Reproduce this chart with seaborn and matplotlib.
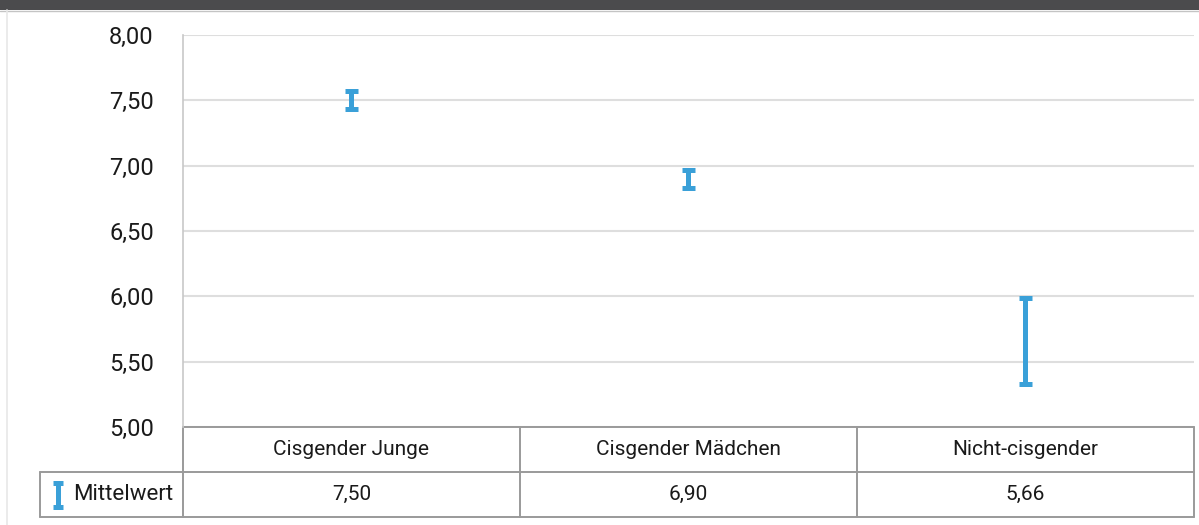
import matplotlib
matplotlib.use("Agg")
import matplotlib.pyplot as plt
import matplotlib.transforms as mtransforms
from matplotlib.lines import Line2D
from matplotlib.patches import Rectangle
import seaborn as sns
import pandas as pd

# Gruppen, Mittelwerte und halbe Breite der Fehlerbalken
categories = ["Cisgender Junge", "Cisgender Mädchen", "Nicht-cisgender"]
means = [7.50, 6.90, 5.66]
half_widths = [0.07, 0.07, 0.33]
mean_labels = ["7,50", "6,90", "5,66"]
y_ticks = [5.0, 5.5, 6.0, 6.5, 7.0, 7.5, 8.0]
y_tick_labels = ["5,00", "5,50", "6,00", "6,50", "7,00", "7,50", "8,00"]
legend_label = "Mittelwert"

BLUE = "#3aa0d8"
GRID = "#dedede"
TABLE = "#9a9a9a"
TEXT = "#1a1a1a"

sns.set_theme(style="white")
plt.rcParams["font.family"] = ["Roboto", "DejaVu Sans"]

# Untere und obere Grenze je Gruppe als Long-Format
rows = []
for c, m, h in zip(categories, means, half_widths):
    rows.append({"Gruppe": c, "Wert": m - h})
    rows.append({"Gruppe": c, "Wert": m + h})
df = pd.DataFrame(rows)

fig = plt.figure(figsize=(11.99, 5.25), dpi=100)
fig.patch.set_facecolor("white")

W, H = 1199, 525
ax = fig.add_axes([183 / W, (H - 427) / H, (1194 - 183) / W, (427 - 35) / H])

sns.pointplot(
    data=df, x="Gruppe", y="Wert", order=categories,
    estimator="mean", errorbar=("pi", 100),
    linestyle="none", marker="", capsize=0.04,
    color=BLUE, err_kws={"linewidth": 3.6, "solid_capstyle": "butt"},
    ax=ax,
)

ax.set_xlim(-0.5, 2.5)
ax.set_ylim(5.0, 8.0)
ax.set_yticks(y_ticks)
ax.set_yticklabels(y_tick_labels, fontsize=17, color=TEXT)
ax.tick_params(axis="y", length=0, pad=21)
ax.set_xticks([])
ax.set_xlabel("")
ax.set_ylabel("")
ax.yaxis.grid(True, color=GRID, linewidth=1.5)
ax.set_axisbelow(True)
for s in ["top", "right", "bottom"]:
    ax.spines[s].set_visible(False)
ax.spines["left"].set_color("#c8c8c8")
ax.spines["left"].set_linewidth(1.2)

# Datentabelle unter der Achse: x in Datenkoordinaten, y in Achsenanteilen
tr = mtransforms.blended_transform_factory(ax.transData, ax.transAxes)
px = 1.0 / (427 - 35)  # ein Pixel in Achsenanteilen (vertikal)
row1_top, row1_bot, row2_bot = 0.0, -45 * px, -90 * px

def tline(xs, ys, transform):
    ax.add_line(Line2D(xs, ys, transform=transform, color=TABLE,
                       linewidth=1.4, clip_on=False))

tline([-0.5, 2.5], [row1_top, row1_top], tr)
tline([2.5, 2.5], [row1_top, row2_bot], tr)
for b in [0.5, 1.5]:
    tline([b, b], [row1_top, row2_bot], tr)
tline([-0.5, -0.5], [row1_top, row2_bot], tr)

# Legendenzelle links in Pixel-Koordinaten der Figur
ftr = fig.transFigure
x0 = 40 / W
y1 = (H - 472) / H
y2 = (H - 517) / H
for xs, ys in [([x0, 1194 / W], [y1, y1]), ([x0, 1194 / W], [y2, y2]), ([x0, x0], [y1, y2])]:
    fig.add_artist(Line2D(xs, ys, transform=ftr, color=TABLE, linewidth=1.4))

for i, (c, lab) in enumerate(zip(categories, mean_labels)):
    ax.text(i, (row1_top + row1_bot) / 2, c, transform=tr, ha="center", va="center",
            fontsize=15, color=TEXT, clip_on=False)
    ax.text(i, (row1_bot + row2_bot) / 2, lab, transform=tr, ha="center", va="center",
            fontsize=15, color=TEXT, clip_on=False)

# Legendensymbol (kleiner Fehlerbalken) und Beschriftung
ly_top = (H - 483) / H
ly_bot = (H - 507) / H
lx = 57.5 / W
cap = 5 / W
fig.add_artist(Line2D([lx, lx], [ly_top, ly_bot], transform=ftr, color=BLUE, linewidth=3.6))
for yy in [ly_top, ly_bot]:
    fig.add_artist(Line2D([lx - cap, lx + cap], [yy, yy], transform=ftr, color=BLUE,
                          linewidth=3.6, solid_capstyle="butt"))
fig.text(73 / W, (y1 + y2) / 2, legend_label, ha="left", va="center", fontsize=16, color=TEXT)

# Rahmen: dunkler Balken oben und feine Linie links
fig.add_artist(Rectangle((0, (H - 10) / H), 1, 10 / H, transform=ftr,
                         facecolor="#4b4b4d", edgecolor="none"))
fig.add_artist(Line2D([0, 1], [(H - 10.5) / H] * 2, transform=ftr, color="#c4c4c4", linewidth=1))
fig.add_artist(Line2D([6.5 / W, 6.5 / W], [0, (H - 10) / H], transform=ftr, color="#e8e8e8", linewidth=1.2))

fig.savefig("out.png", dpi=100, facecolor="white")
